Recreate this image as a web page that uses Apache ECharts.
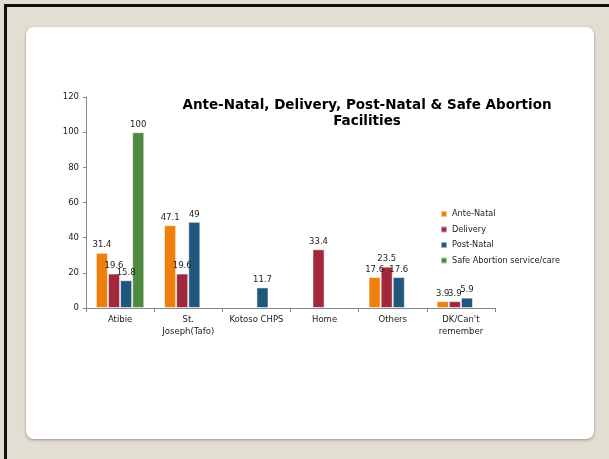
<!DOCTYPE html>
<html>
<head>
<meta charset="utf-8">
<script src="https://cdn.jsdelivr.net/npm/echarts@6/dist/echarts.min.js"></script>
<style>
  html, body { margin: 0; padding: 0; background: #E3DED2; }
  #chart { width: 609px; height: 459px; }
</style>
</head>
<body>
<div id="chart"></div>
<script>
// Facility categories along the x axis
const categories = ['Atibie', 'St.\nJoseph(Tafo)', 'Kotoso CHPS', 'Home', 'Others', "DK/Can't\nremember"];

// Percentages per service (null = no bar for that facility)
const anteNatal    = [31.4, 47.1, null, null, 17.6, 3.9];
const delivery     = [19.6, 19.6, null, 33.4, 23.5, 3.9];
const postNatal    = [15.8, 49,   11.7, null, 17.6, 5.9];
const safeAbortion = [100,  null, null, null, null, null];

const seriesNames = ['Ante-Natal', 'Delivery', 'Post-Natal', 'Safe Abortion service/care'];
const seriesColors = ['#EE7F0B', '#A0283A', '#1F587C', '#4E8B40'];
const seriesData = [anteNatal, delivery, postNatal, safeAbortion];

const yTicks = { min: 0, max: 120, interval: 20 };

const font = 'DejaVu Sans, Verdana, sans-serif';
const chart = echarts.init(document.getElementById('chart'), null, { renderer: 'canvas' });

chart.setOption({
  backgroundColor: '#E3DED2',
  animation: false,
  graphic: [
    // dark frame lines along the top and left edges
    { type: 'rect', z: -10, shape: { x: 4, y: 4, width: 605, height: 3 }, style: { fill: '#111' } },
    { type: 'rect', z: -10, shape: { x: 4, y: 4, width: 3, height: 455 }, style: { fill: '#111' } },
    // white rounded card
    {
      type: 'rect', z: -5,
      shape: { x: 26, y: 27, width: 568, height: 412, r: 8 },
      style: {
        fill: '#FFFFFF',
        shadowColor: 'rgba(0,0,0,0.35)',
        shadowBlur: 3,
        shadowOffsetY: 1
      }
    }
  ],
  title: {
    text: 'Ante-Natal, Delivery, Post-Natal & Safe Abortion\nFacilities',
    left: 367,
    top: 97,
    textAlign: 'center',
    padding: 0,
    textStyle: {
      fontFamily: font,
      fontSize: 13.5,
      fontWeight: 'bold',
      lineHeight: 16,
      color: '#000'
    }
  },
  legend: {
    orient: 'vertical',
    left: 435,
    top: 204,
    itemWidth: 6,
    itemHeight: 6,
    itemGap: 5.5,
    icon: 'rect',
    data: seriesNames,
    textStyle: {
      fontFamily: font,
      fontSize: 8.2,
      lineHeight: 10,
      color: '#222'
    }
  },
  grid: {
    left: 86,
    right: 114,
    top: 97,
    bottom: 151,
    containLabel: false
  },
  xAxis: {
    type: 'category',
    data: categories,
    axisLine: { lineStyle: { color: '#878787', width: 1 } },
    axisTick: { show: true, alignWithLabel: false, length: 4, lineStyle: { color: '#878787' } },
    axisLabel: {
      interval: 0,
      fontFamily: font,
      fontSize: 8.5,
      lineHeight: 12,
      color: '#222',
      margin: 6
    },
    splitLine: { show: false }
  },
  yAxis: {
    type: 'value',
    min: yTicks.min,
    max: yTicks.max,
    interval: yTicks.interval,
    axisLine: { show: true, lineStyle: { color: '#878787', width: 1 } },
    axisTick: { show: true, length: 3, lineStyle: { color: '#878787' } },
    axisLabel: {
      fontFamily: font,
      fontSize: 8.5,
      color: '#222',
      margin: 7
    },
    splitLine: { show: false }
  },
  series: seriesData.map((data, i) => ({
    name: seriesNames[i],
    type: 'bar',
    data: data,
    barGap: '0%',
    barCategoryGap: '29%',
    itemStyle: {
      color: seriesColors[i],
      borderColor: 'rgba(255,255,255,0.55)',
      borderWidth: 1
    },
    label: {
      show: true,
      position: 'top',
      distance: 3,
      fontFamily: font,
      fontSize: 8.5,
      color: '#222'
    }
  })),
  color: seriesColors
});
</script>
</body>
</html>
